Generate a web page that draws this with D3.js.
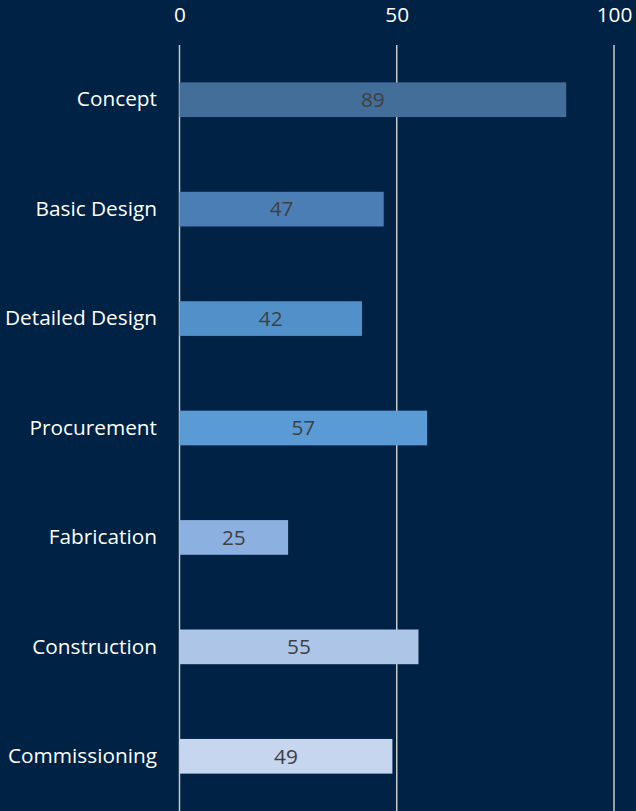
<!DOCTYPE html>
<html><head><meta charset="utf-8">
<script src="https://cdn.jsdelivr.net/npm/d3@7"></script>
<style>html,body{margin:0;padding:0;background:#002244;}svg{display:block;}</style>
</head><body>
<svg id="c" width="636" height="811"></svg>
<script>
const categories = ["Concept","Basic Design","Detailed Design","Procurement","Fabrication","Construction","Commissioning"];
const values = [89,47,42,57,25,55,49];
const barColors = ["#426e99","#4a7eb4","#5190c8","#5b9bd5","#8cb0df","#adc6e7","#c5d6ee"];
const xTicks = [0,50,100];

const W = 636, H = 811;
const font = "'Open Sans', sans-serif";
const fs = "20.8px";
const svg = d3.select("#c");
svg.append("rect").attr("width",W).attr("height",H).attr("fill","#002244");

const x = d3.scaleLinear().domain([0,100]).range([179.5,614]);
const y = d3.scaleBand().domain(categories).range([45,811]).paddingInner(0.683).paddingOuter(0.3415);

// gridlines
svg.append("g").selectAll("line").data(xTicks).join("line")
  .attr("x1",d=>x(d)).attr("x2",d=>x(d)).attr("y1",45).attr("y2",H)
  .attr("stroke","#c8c8c8").attr("stroke-width",1.5);

// top axis
const ax = svg.append("g").attr("transform","translate(0,15)")
  .call(d3.axisTop(x).tickValues(xTicks).tickSize(0).tickPadding(0));
ax.select(".domain").remove();
ax.selectAll("text").attr("fill","#ffffff").style("font-family",font).style("font-size",fs).attr("dy","0.35em");

// bars
svg.append("g").selectAll("rect").data(categories).join("rect")
  .attr("x",x(0)).attr("y",d=>y(d)).attr("height",y.bandwidth())
  .attr("width",(d,i)=>x(values[i])-x(0)).attr("fill",(d,i)=>barColors[i]);

// value labels
svg.append("g").selectAll("text").data(categories).join("text")
  .attr("x",(d,i)=>(x(0)+x(values[i]))/2).attr("y",d=>y(d)+y.bandwidth()/2)
  .attr("dy","0.35em").attr("text-anchor","middle")
  .attr("fill","#404040").style("font-family",font).style("font-size",fs)
  .text((d,i)=>values[i]);

// category axis
const ay = svg.append("g").attr("transform","translate(157,0)")
  .call(d3.axisLeft(y).tickSize(0).tickPadding(0));
ay.select(".domain").remove();
ay.selectAll("text").attr("fill","#ffffff").style("font-family",font).style("font-size",fs);
</script>
</body></html>
